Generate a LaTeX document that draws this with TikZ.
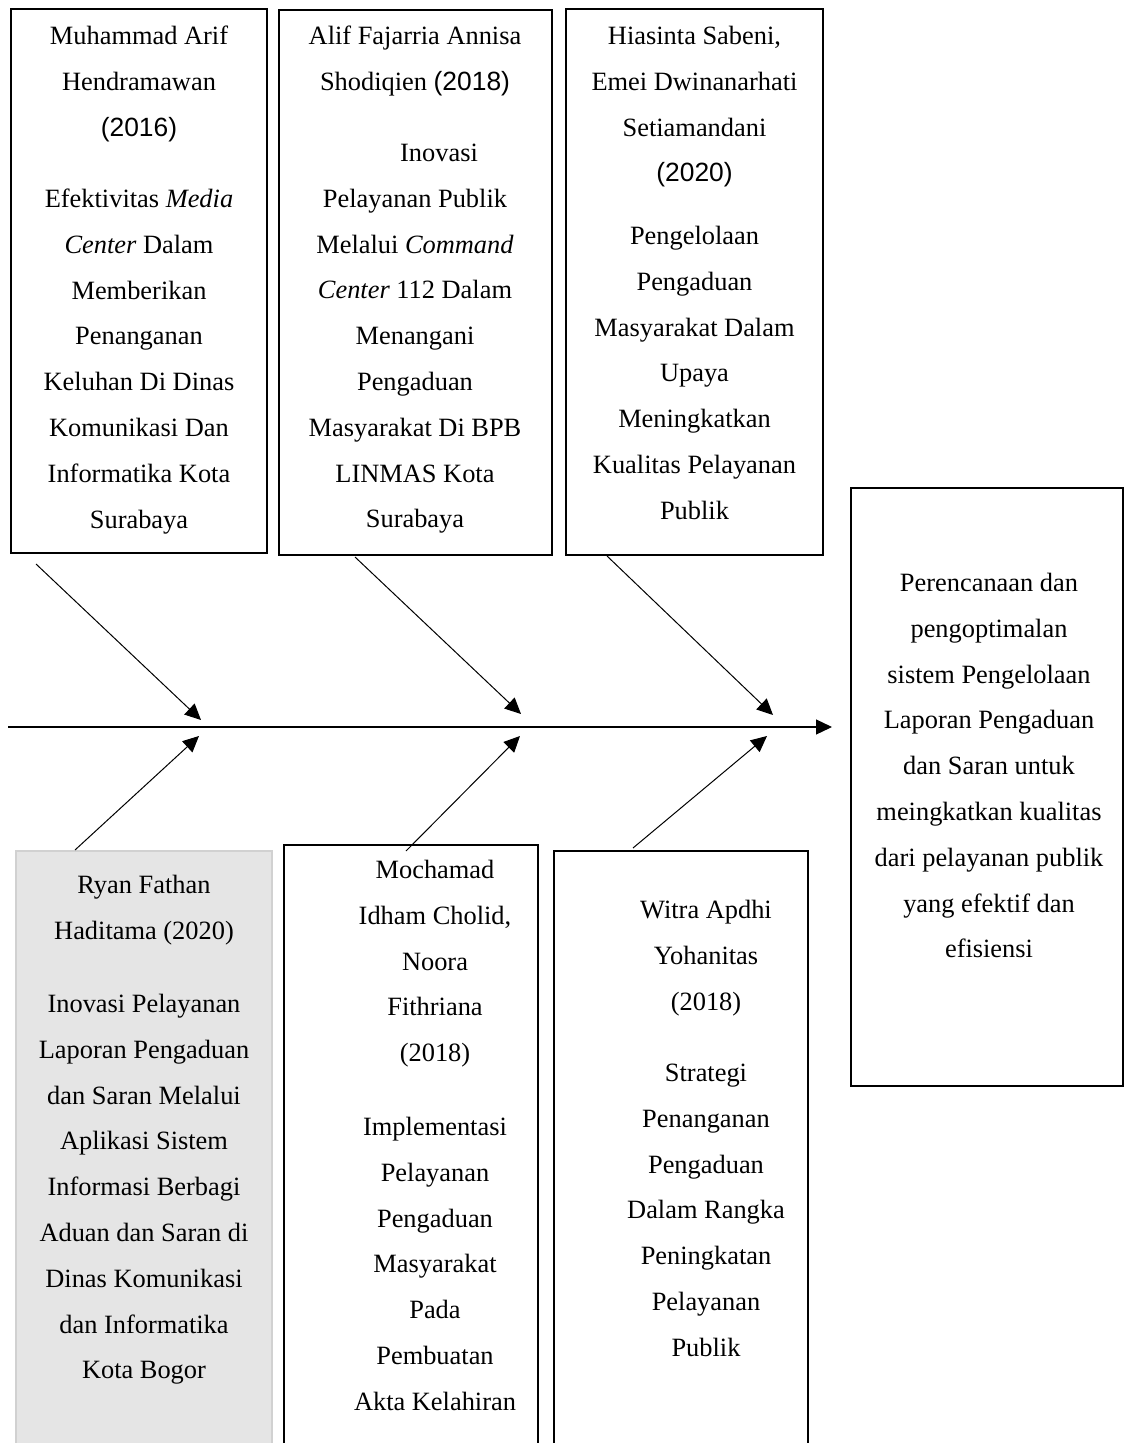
\documentclass[tikz,border=0pt]{standalone}
\usepackage{fontspec}
\setmainfont{Liberation Serif}
\newfontfamily\arialf{Liberation Sans}
\usetikzlibrary{arrows.meta,fit}
\begin{document}
\begin{tikzpicture}[x=0.5pt,y=-0.5pt,
  box/.style={draw, line width=1.1pt, inner sep=0pt},
  gbox/.style={draw=black!18, fill=black!10, line width=1.1pt, inner sep=0pt},
  txt/.style={inner sep=0pt, align=center, anchor=north, font=\fontsize{13.2pt}{22.9pt}\selectfont},
  arr/.style={line width=0.5pt, -{Triangle[length=8pt,width=7.5pt]}}]
\useasboundingbox (0,0) rectangle (1125,1443);
\fill[white] (0,0) rectangle (1125,1443);
\clip (0,0) rectangle (1125,1443);

% boxes
\node[box, fit={(11,9)(267,553)}] (b1) {};
\node[box, fit={(279,10)(552,555)}] (b2) {};
\node[box, fit={(566,9)(823,555)}] (b3) {};
\node[box, fit={(851,488)(1123,1086)}] (res) {};
\node[gbox, fit={(16,851)(272,1480)}] (b4) {};
\node[box, fit={(284,845)(538,1480)}] (b5) {};
\node[box, fit={(554,851)(808,1480)}] (b6) {};

% texts
\node[txt] (t1) at (139,12) {\strut Muhammad Arif\\Hendramawan\\{\arialf (2016)}\\[12.8pt]Efektivitas \textit{Media}\\\textit{Center} Dalam\\Memberikan\\Penanganan\\Keluhan Di Dinas\\Komunikasi Dan\\Informatika Kota\\Surabaya};
\node[txt] (t2) at (415,12) {\strut Alif Fajarria Annisa\\Shodiqien {\arialf (2018)}\\[12.7pt]\hspace*{24pt}Inovasi\\Pelayanan Publik\\Melalui \textit{Command}\\\textit{Center} 112 Dalam\\Menangani\\Pengaduan\\Masyarakat Di BPB\\LINMAS Kota\\Surabaya};
\node[txt] (t3) at (694.5,12) {\strut Hiasinta Sabeni,\\Emei Dwinanarhati\\Setiamandani\\{\arialf (2020)}\\[8.4pt]Pengelolaan\\Pengaduan\\Masyarakat Dalam\\Upaya\\Meningkatkan\\Kualitas Pelayanan\\Publik};
\node[txt] (tr) at (989,559) {\strut Perencanaan dan\\pengoptimalan\\sistem Pengelolaan\\Laporan Pengaduan\\dan Saran untuk\\meingkatkan kualitas\\dari pelayanan publik\\yang efektif dan\\efisiensi};
\node[txt] (t4) at (144,861) {\strut Ryan Fathan\\Haditama (2020)\\[13.7pt]Inovasi Pelayanan\\Laporan Pengaduan\\dan Saran Melalui\\Aplikasi Sistem\\Informasi Berbagi\\Aduan dan Saran di\\Dinas Komunikasi\\dan Informatika\\Kota Bogor};
\node[txt] (t5) at (435,846) {\strut Mochamad\\Idham Cholid,\\Noora\\Fithriana\\(2018)\\[14pt]Implementasi\\Pelayanan\\Pengaduan\\Masyarakat\\Pada\\Pembuatan\\Akta Kelahiran};
\node[txt] (t6) at (706,886) {\strut Witra Apdhi\\Yohanitas\\(2018)\\[12.8pt]Strategi\\Penanganan\\Pengaduan\\Dalam Rangka\\Peningkatan\\Pelayanan\\Publik};

% spine
\coordinate (sp0) at (8,727);
\coordinate (sp1) at (832,727);
\draw[line width=0.6pt, -{Triangle[length=8pt,width=7.5pt]}] (sp0) -- (sp1);

% branch coordinates
\coordinate (a1s) at (36,564);  \coordinate (a1e) at (201,720);
\coordinate (a2s) at (355,557); \coordinate (a2e) at (521,714);
\coordinate (a3s) at (607,556); \coordinate (a3e) at (773,715);
\coordinate (c1s) at (75,850);  \coordinate (c1e) at (199,736);
\coordinate (c2s) at (406,851); \coordinate (c2e) at (520,736);
\coordinate (c3s) at (633,848); \coordinate (c3e) at (767,736);

\draw[arr] (a1s) -- (a1e);
\draw[arr] (a2s) -- (a2e);
\draw[arr] (a3s) -- (a3e);
\draw[arr] (c1s) -- (c1e);
\draw[arr] (c2s) -- (c2e);
\draw[arr] (c3s) -- (c3e);
\end{tikzpicture}
\end{document}
